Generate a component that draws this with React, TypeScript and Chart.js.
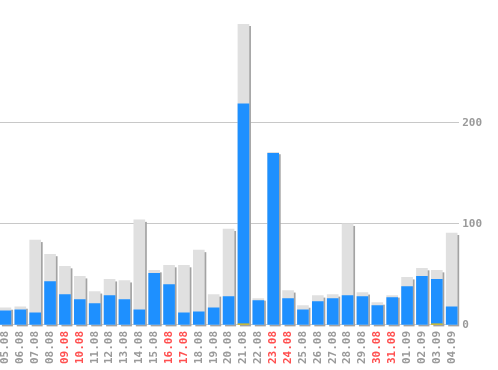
import React, { useEffect, useRef } from "react";
import { Chart, registerables } from "chart.js";

Chart.register(...registerables);

const labels = [
  "05.08", "06.08", "07.08", "08.08", "09.08", "10.08", "11.08", "12.08",
  "13.08", "14.08", "15.08", "16.08", "17.08", "18.08", "19.08", "20.08",
  "21.08", "22.08", "23.08", "24.08", "25.08", "26.08", "27.08", "28.08",
  "29.08", "30.08", "31.08", "01.09", "02.09", "03.09", "04.09",
];

const weekendLabels = ["09.08", "10.08", "16.08", "17.08", "23.08", "24.08", "30.08", "31.08"];

const totalValues = [
  17, 18, 84, 70, 58, 48, 33, 45, 44, 104, 54, 59, 59, 74, 30, 95,
  298, 26, 171, 34, 19, 29, 30, 100, 32, 22, 29, 47, 56, 54, 91,
];

const blueValues = [
  14, 15, 12, 43, 30, 25, 21, 29, 25, 15, 51, 40, 12, 13, 17, 28,
  219, 24, 170, 26, 15, 23, 26, 29, 28, 19, 27, 38, 48, 45, 18,
];

const yellowValues = [
  null, null, null, null, null, null, null, null, null, null, null, null, null, null, null, null,
  1, null, null, null, null, null, null, null, null, null, null, null, null, 1, null,
];

const yTickValues = [0, 100, 200];

const FONT = "'DejaVu Sans Mono', monospace";

const shadowPlugin = {
  id: "barShadow",
  beforeDatasetsDraw(chart: any) {
    const meta = chart.getDatasetMeta(2);
    const ctx = chart.ctx;
    ctx.save();
    ctx.fillStyle = "#a3a3a3";
    meta.data.forEach((bar: any) => {
      const w = bar.width;
      const top = Math.min(bar.y, bar.base);
      const h = Math.abs(bar.base - bar.y);
      if (h <= 0) return;
      ctx.fillRect(bar.x - w / 2 + 2, top + 2, w, h);
    });
    ctx.restore();
  },
};

export default function App() {
  const ref = useRef<HTMLCanvasElement | null>(null);

  useEffect(() => {
    if (!ref.current) return;
    const chart = new Chart(ref.current, {
      type: "bar",
      data: {
        labels,
        datasets: [
          {
            label: "yellow",
            data: yellowValues,
            backgroundColor: "#f2c200",
            grouped: false,
            barThickness: 11,
            borderWidth: 0,
          } as any,
          {
            label: "blue",
            data: blueValues,
            backgroundColor: "#1e90ff",
            grouped: false,
            barThickness: 11,
            borderWidth: 0,
          } as any,
          {
            label: "total",
            data: totalValues,
            backgroundColor: "#e0e0e0",
            grouped: false,
            barThickness: 11,
            borderWidth: 0,
          } as any,
        ],
      },
      options: {
        responsive: false,
        animation: false,
        maintainAspectRatio: false,
        layout: { padding: { top: 24, right: 13, bottom: 0, left: 0 } },
        plugins: {
          legend: { display: false },
          tooltip: { enabled: false },
        },
        scales: {
          x: {
            grid: { display: false, drawTicks: false },
            border: { display: false },
            ticks: {
              minRotation: 90,
              maxRotation: 90,
              autoSkip: false,
              padding: 6,
              font: { family: FONT, size: 11, weight: "bold" },
              color: (c: any) =>
                weekendLabels.includes(labels[c.index]) ? "#ff5050" : "#9a9a9a",
            },
          },
          y: {
            position: "right",
            min: 0,
            max: Math.max(...totalValues),
            border: { display: false },
            grid: { color: "#c8c8c8", drawTicks: false, lineWidth: 1 },
            afterBuildTicks: (axis: any) => {
              axis.ticks = yTickValues.map((v) => ({ value: v }));
            },
            ticks: {
              padding: 3,
              font: { family: FONT, size: 11, weight: "bold" },
              color: "#9a9a9a",
            },
          },
        },
      },
      plugins: [shadowPlugin],
    } as any);
    return () => chart.destroy();
  }, []);

  return (
    <div style={{ position: "absolute", left: -2, top: 0 }}>
      <canvas ref={ref} width={500} height={370} style={{ display: "block" }} />
    </div>
  );
}
